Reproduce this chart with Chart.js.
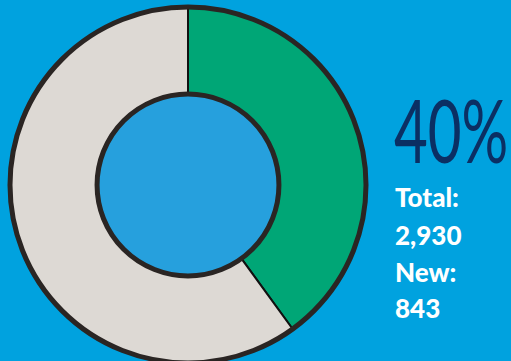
<!DOCTYPE html>
<html>
<head>
<meta charset="utf-8">
<script src="https://cdn.jsdelivr.net/npm/chart.js@4/dist/chart.umd.min.js"></script>
<style>
  html, body { margin: 0; padding: 0; }
  body { width: 511px; height: 361px; background: #00a2df; overflow: hidden; position: relative; }
  #wrap { position: absolute; left: 0; top: 0; width: 376px; height: 370px; }
  .pct { position: absolute; left: 394px; top: 86px; font-family: Lato, sans-serif; font-weight: 400;
         font-size: 87px; color: #0b2f63; transform: scaleX(0.67); transform-origin: left top; line-height: 1; }
  .stat { position: absolute; left: 395px; font-family: Lato, sans-serif; font-weight: 900;
          font-size: 26px; color: #ffffff; line-height: 1; }
</style>
</head>
<body>
<div id="wrap"><canvas id="ring"></canvas></div>
<div class="pct" id="pct"></div>
<div class="stat" id="s0" style="top:184px"></div>
<div class="stat" id="s1" style="top:222px"></div>
<div class="stat" id="s2" style="top:259px"></div>
<div class="stat" id="s3" style="top:295px"></div>
<script>
// ring data
const segLabels = ['New', 'Rest'];
const segValues = [40, 60];
const segColors = ['#00a676', '#ddd9d4'];

// side figures
const totalCount = 2930;
const newCount = 843;

document.getElementById('pct').textContent = segValues[0] + '%';
document.getElementById('s0').textContent = 'Total:';
document.getElementById('s1').textContent = totalCount.toLocaleString('en-US');
document.getElementById('s2').textContent = 'New:';
document.getElementById('s3').textContent = newCount.toLocaleString('en-US');

// fills the hole and draws the heavy rims around the ring
const rimPlugin = {
    id: 'rim',
    beforeDatasetsDraw(chart) {
        const arc = chart.getDatasetMeta(0).data[0];
        const ctx = chart.ctx;
        ctx.save();
        ctx.fillStyle = '#26a0dd';
        ctx.beginPath();
        ctx.arc(arc.x, arc.y, arc.innerRadius, 0, Math.PI * 2);
        ctx.fill();
        ctx.restore();
    },
    afterDatasetsDraw(chart) {
        const arc = chart.getDatasetMeta(0).data[0];
        const ctx = chart.ctx;
        ctx.save();
        ctx.strokeStyle = '#2a2523';
        ctx.lineWidth = 5;
        ctx.beginPath();
        ctx.arc(arc.x, arc.y, arc.outerRadius, 0, Math.PI * 2);
        ctx.stroke();
        ctx.beginPath();
        ctx.arc(arc.x, arc.y, arc.innerRadius, 0, Math.PI * 2);
        ctx.stroke();
        ctx.restore();
    }
};

new Chart(document.getElementById('ring'), {
    type: 'doughnut',
    data: {
        labels: segLabels,
        datasets: [{
            data: segValues,
            backgroundColor: segColors,
            borderColor: '#111111',
            borderWidth: 2
        }]
    },
    options: {
        responsive: true,
        maintainAspectRatio: false,
        animation: false,
        events: [],
        radius: 178,
        cutout: 94,
        layout: { padding: 0 },
        plugins: { legend: { display: false }, tooltip: { enabled: false } }
    },
    plugins: [rimPlugin]
});
</script>
</body>
</html>
